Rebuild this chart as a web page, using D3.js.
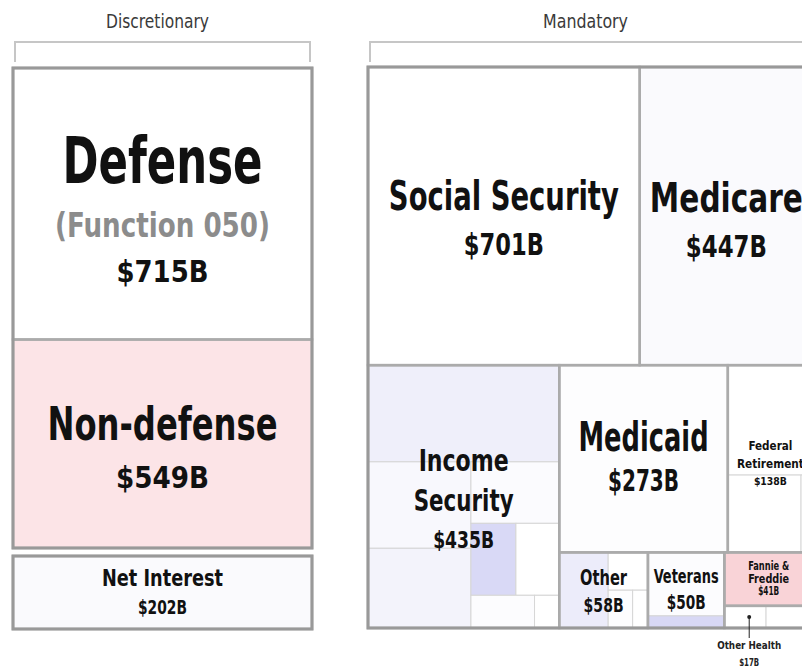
<!DOCTYPE html>
<html>
<head>
<meta charset="utf-8">
<script src="https://cdn.jsdelivr.net/npm/d3@7"></script>
<style>
    body { margin: 0; background: #fff; }
    svg { display: block; }
    text { font-family: "DejaVu Sans Condensed", "Liberation Sans Narrow", "DejaVu Sans", sans-serif; }
</style>
</head>
<body>
<div id="chart"></div>
<script>
(function() {
    "use strict";

    // Budget figures, billions of dollars.
    var discretionaryNames = ["Defense", "Non-defense"];
    var discretionaryValues = [715, 549];
    var netInterestValue = 202;

    var mandatoryNames = ["Social Security", "Medicare", "Income Security", "Medicaid",
        "Federal Retirement", "Other", "Veterans", "Fannie & Freddie", "Other Health"];
    var mandatoryValues = [701, 447, 435, 273, 138, 58, 50, 41, 17];

    // Unlabelled sub-programmes.
    var incomeParts = [160, 77, 71, 47, 28, 27, 18, 7];
    var retirementParts = [81, 49, 8];
    var otherParts = [32, 13, 8, 5];
    var veteransParts = [42, 8];
    var otherHealthParts = [8, 9];

    var w = 802;
    var h = 666;

    // Fill colours.
    var fills = {
        "Defense": "#ffffff", "Non-defense": "#fce4e7", "Net Interest": "#fafafd",
        "Social Security": "#ffffff", "Medicare": "#fafafd", "Medicaid": "#fdfdfe",
        "Fannie & Freddie": "#f9d3d7"
    };
    var partFills = {
        "Income Security": ["#efeffa", "#f8f8fd", "#f3f3fb", "#fbfbfe", "#d9d9f6", "#ffffff", "#fcfcfe", "#ffffff"],
        "Federal Retirement": ["#ffffff", "#ffffff", "#ffffff"],
        "Other": ["#ececfa", "#ffffff", "#fdfdfe", "#ffffff"],
        "Veterans": ["#fcfcfe", "#d8d8f5"],
        "Other Health": ["#ffffff", "#ffffff"]
    };

    // Label lines: text, font size, offset from cell centre, drawn width, colour.
    var labels = {
        "Defense": [["Defense", 64, -21, 200], ["(Function 050)", 33, 33, 215, "#8c8c8c"], ["$715B", 31, 78, 92]],
        "Non-defense": [["Non-defense", 46, -4, 230], ["$549B", 31, 44, 93]],
        "Net Interest": [["Net Interest", 23, -7, 121], ["$202B", 19, 21, 49]],
        "Social Security": [["Social Security", 41, -6, 230], ["$701B", 30, 39, 80]],
        "Medicare": [["Medicare", 41, -4, 153], ["$447B", 30, 41, 81]],
        "Income Security": [["Income", 30, -26, 90], ["Security", 30, 14, 100], ["$435B", 23, 51, 61]],
        "Medicaid": [["Medicaid", 40, -8, 130], ["$273B", 31, 32, 71]],
        "Federal Retirement": [["Federal", 13, -9, 44], ["Retirement", 13, 9, 67], ["$138B", 10, 26, 33]],
        "Other": [["Other", 21, -5, 47], ["$58B", 20, 22, 40]],
        "Veterans": [["Veterans", 20, -7, 65], ["$50B", 20, 19, 39]],
        "Fannie & Freddie": [["Fannie &", 12, -9, 41], ["Freddie", 12, 4, 41], ["$41B", 12, 16, 21]]
    };

    function mandatory(name) {
        return mandatoryValues[mandatoryNames.indexOf(name)];
    }

    // dir "v" stacks children top to bottom, "h" lays them left to right.
    function group(dir, kids, name) {
        return { dir: dir, children: kids, name: name };
    }
    function item(name, value) {
        return { name: name, value: value };
    }
    function part(owner, values, i) {
        return { owner: owner, i: i, value: values[i] };
    }

    function tile(node, x0, y0, x1, y1) {
        if (node.data.dir === "h") {
            d3.treemapDice(node, x0, y0, x1, y1);
        } else {
            d3.treemapSlice(node, x0, y0, x1, y1);
        }
    }

    // Text squeezed to the width it has in the original (condensed face).
    function label(sel, x, y, txt, size, width, color, weight) {
        return sel.append("text")
            .attr("x", x)
            .attr("y", y)
            .attr("text-anchor", "middle")
            .attr("font-weight", weight || "bold")
            .attr("font-size", size)
            .attr("fill", color || "#111")
            .attr("textLength", width)
            .attr("lengthAdjust", "spacingAndGlyphs")
            .text(txt);
    }

    var IS = "Income Security", FR = "Federal Retirement", OT = "Other",
        VE = "Veterans", OH = "Other Health";

    var discretionaryTree = group("v", discretionaryNames.map(function(n, i) {
        return item(n, discretionaryValues[i]);
    }));
    var interestTree = group("v", [item("Net Interest", netInterestValue)]);

    var mandatoryTree = group("v", [
        group("h", [item("Social Security", mandatory("Social Security")), item("Medicare", mandatory("Medicare"))]),
        group("h", [
            group("v", [
                part(IS, incomeParts, 0),
                group("h", [
                    group("v", [part(IS, incomeParts, 1), part(IS, incomeParts, 2)]),
                    group("v", [
                        part(IS, incomeParts, 3),
                        group("h", [part(IS, incomeParts, 4), part(IS, incomeParts, 5)]),
                        group("h", [part(IS, incomeParts, 6), part(IS, incomeParts, 7)])
                    ])
                ])
            ], IS),
            group("v", [
                group("h", [
                    item("Medicaid", mandatory("Medicaid")),
                    group("v", [
                        part(FR, retirementParts, 0),
                        group("h", [part(FR, retirementParts, 1), part(FR, retirementParts, 2)])
                    ], FR)
                ]),
                group("h", [
                    group("h", [
                        part(OT, otherParts, 0),
                        group("v", [
                            part(OT, otherParts, 1),
                            group("h", [part(OT, otherParts, 2), part(OT, otherParts, 3)])
                        ])
                    ], OT),
                    group("v", [part(VE, veteransParts, 0), part(VE, veteransParts, 1)], VE),
                    group("v", [
                        item("Fannie & Freddie", mandatory("Fannie & Freddie")),
                        group("h", [part(OH, otherHealthParts, 0), part(OH, otherHealthParts, 1)], OH)
                    ])
                ])
            ])
        ])
    ]);

    var svg = d3.select("#chart").append("svg")
        .attr("width", w)
        .attr("height", h);

    // Draws one boxed treemap at (x, y) with the given size.
    function drawBox(tree, x, y, bw, bh) {
        var root = d3.hierarchy(tree)
            .sum(function(d) { return d.children ? 0 : d.value; });
        d3.treemap().size([bw, bh]).tile(tile)(root);

        var g = svg.append("g").attr("transform", "translate(" + x + "," + y + ")");

        g.selectAll(".part")
            .data(root.leaves())
            .enter()
            .append("rect")
                .attr("class", "part")
                .attr("x", function(d) { return d.x0; })
                .attr("y", function(d) { return d.y0; })
                .attr("width", function(d) { return d.x1 - d.x0; })
                .attr("height", function(d) { return d.y1 - d.y0; })
                .attr("fill", function(d) {
                    if (d.data.owner) return partFills[d.data.owner][d.data.i];
                    return fills[d.data.name];
                })
                .attr("stroke", "#d6d6d6")
                .attr("stroke-width", 1);

        var named = root.descendants().filter(function(d) { return d.depth > 0 && d.data.name; });

        g.selectAll(".cell")
            .data(named)
            .enter()
            .append("rect")
                .attr("class", "cell")
                .attr("x", function(d) { return d.x0; })
                .attr("y", function(d) { return d.y0; })
                .attr("width", function(d) { return d.x1 - d.x0; })
                .attr("height", function(d) { return d.y1 - d.y0; })
                .attr("fill", "none")
                .attr("stroke", "#ababab")
                .attr("stroke-width", 2.5);

        g.append("rect")
            .attr("width", bw)
            .attr("height", bh)
            .attr("fill", "none")
            .attr("stroke", "#999")
            .attr("stroke-width", 3);

        named.forEach(function(d) {
            var lines = labels[d.data.name];
            if (!lines) return;
            var cx = (d.x0 + d.x1) / 2;
            var cy = (d.y0 + d.y1) / 2;
            lines.forEach(function(l) {
                label(g, cx, cy + l[2], l[0], l[1], l[3], l[4]);
            });
        });

        return root;
    }

    // Heading with a bracket over a box.
    function heading(text, x0, x1, width) {
        svg.append("path")
            .attr("d", "M" + (x0 + 2) + ",62V42H" + (x1 - 2) + "V62")
            .attr("fill", "none")
            .attr("stroke", "#c6c6c6")
            .attr("stroke-width", 2);
        label(svg, (x0 + x1) / 2 - 5, 28, text, 20, width, "#3a3a3a", "normal");
    }

    heading("Discretionary", 13, 312, 103);
    heading("Mandatory", 368, 813, 85);

    drawBox(discretionaryTree, 13, 68, 299, 480);
    drawBox(interestTree, 13, 556, 299, 73);
    var mroot = drawBox(mandatoryTree, 368, 67, 445, 561);

    // Callout for the small Other Health cell.
    var oh = mroot.leaves().filter(function(d) { return d.data.owner === OH && d.data.i === 0; })[0];
    var dotX = 368 + (oh.x0 + oh.x1) / 2 + 4;
    var dotY = 67 + (oh.y0 + oh.y1) / 2;
    svg.append("circle").attr("cx", dotX).attr("cy", dotY).attr("r", 2).attr("fill", "#222");
    svg.append("line")
        .attr("x1", dotX).attr("y1", dotY)
        .attr("x2", dotX).attr("y2", 638)
        .attr("stroke", "#222").attr("stroke-width", 1);
    label(svg, dotX, 649, "Other Health", 11, 64, "#222");
    label(svg, dotX, 666, "$17B", 11, 20, "#222");
})();
</script>
</body>
</html>
